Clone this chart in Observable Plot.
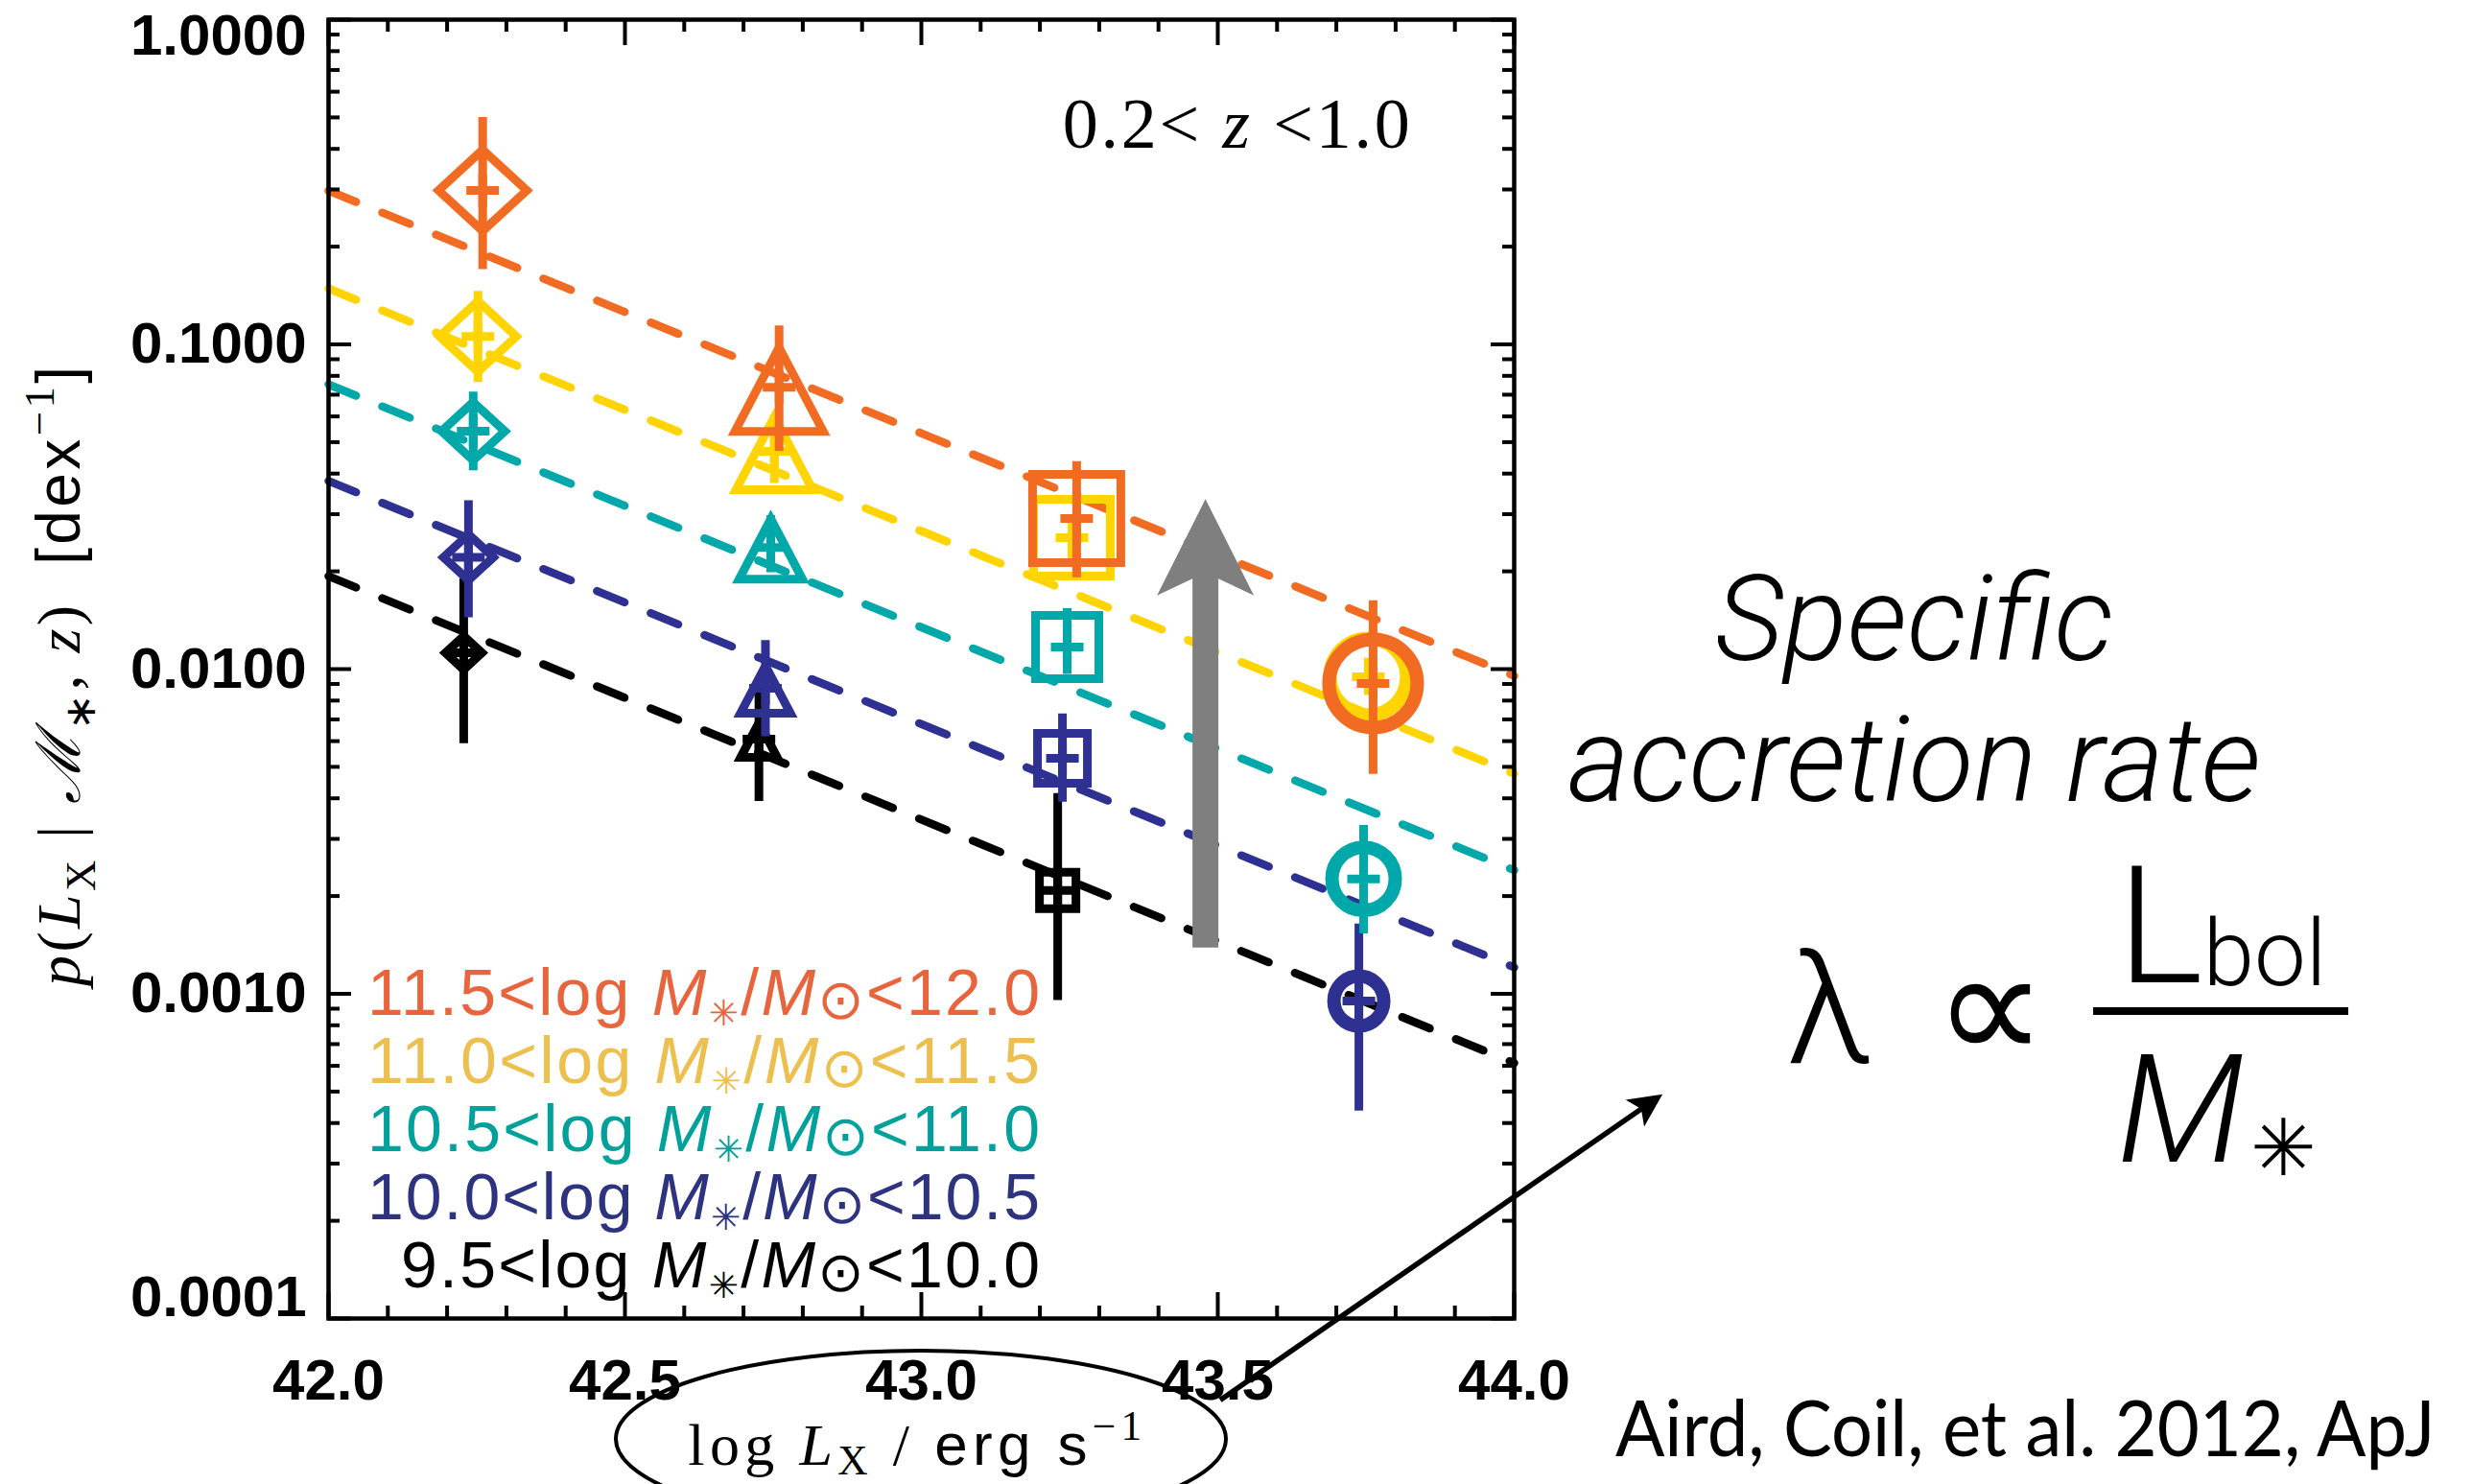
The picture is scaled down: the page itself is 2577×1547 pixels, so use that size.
<!DOCTYPE html>
<html>
<head>
<meta charset="utf-8">
<script src="https://cdn.jsdelivr.net/npm/d3@7"></script>
<script src="https://cdn.jsdelivr.net/npm/@observablehq/plot@0.6"></script>
<style>
  html, body { margin: 0; padding: 0; background: #fff; }
  #chart svg { display: block; }
</style>
</head>
<body>
<div id="chart"></div>
<script>
// ---------------- DATA ----------------
// stellar-mass bins (log M*/Msun), drawn from low to high mass
const massBins = ["9.5-10.0", "10.0-10.5", "10.5-11.0", "11.0-11.5", "11.5-12.0"];
const legendLo = ["9.5", "10.0", "10.5", "11.0", "11.5"];
const legendHi = ["10.0", "10.5", "11.0", "11.5", "12.0"];
// X-ray luminosity bins (one plotting symbol per bin)
const lxBins = ["42.0-42.5", "42.5-43.0", "43.0-43.5", "43.5-44.0"];

// measured points: mass-bin index, Lx-bin index, log Lx, p, lower, upper
const ptMass = [0, 0, 0,   1, 1, 1, 1,   2, 2, 2, 2,   3, 3, 3, 3,   4, 4, 4, 4];
const ptBin  = [0, 1, 2,   0, 1, 2, 3,   0, 1, 2, 3,   0, 1, 2, 3,   0, 1, 2, 3];
const ptLx   = [42.228, 42.726, 43.230,
                42.236, 42.737, 43.238, 43.738,
                42.244, 42.746, 43.246, 43.746,
                42.252, 42.752, 43.254, 43.754,
                42.260, 42.760, 43.262, 43.762];
const ptP    = [0.01122, 0.00609, 0.00208,
                0.0221, 0.00873, 0.00531, 0.00095,
                0.0540, 0.0237, 0.01169, 0.00226,
                0.1058, 0.0468, 0.02538, 0.00947,
                0.298, 0.0738, 0.0291, 0.00903];
const ptLo   = [0.00589, 0.00391, 0.000953,
                0.0144, 0.00619, 0.00389, 0.000435,
                0.0408, 0.0198, 0.00963, 0.00153,
                0.0763, 0.0373, 0.0218, 0.0083,
                0.170, 0.0468, 0.0191, 0.00474];
const ptHi   = [0.0190, 0.00897, 0.00414,
                0.0330, 0.01225, 0.00727, 0.00164,
                0.0713, 0.0297, 0.01536, 0.0033,
                0.1456, 0.0606, 0.0295, 0.0108,
                0.500, 0.114, 0.0435, 0.01624];

// dashed model lines: value at log Lx = 42.0 and 44.0 for each mass bin
const lineLx = [42.0, 44.0];
const lineStart = [0.01933, 0.03798, 0.0753, 0.1486, 0.2974];
const lineEnd   = [0.000612, 0.001207, 0.002403, 0.004767, 0.00953];

// axes
const xMajor = [42.0, 42.5, 43.0, 43.5, 44.0];
const xTickLabels = ["42.0", "42.5", "43.0", "43.5", "44.0"];
const xMinor = [42.1, 42.2, 42.3, 42.4, 42.6, 42.7, 42.8, 42.9, 43.1, 43.2, 43.3, 43.4, 43.6, 43.7, 43.8, 43.9];
const yMajor = [1, 0.1, 0.01, 0.001, 0.0001];
const yTickLabels = ["1.0000", "0.1000", "0.0100", "0.0010", "0.0001"];
const yMinor = [];
for (const dec of [1e-4, 1e-3, 1e-2, 1e-1]) for (let k = 2; k <= 9; k++) yMinor.push(+(dec * k).toPrecision(3));

// annotations (data coordinates)
const grayArrowLx = [43.48];
const grayArrowP = [0.001383, 0.0333];          // tail, tip
const noteArrowLx = [43.505, 44.251];           // tail, tip
const noteArrowP = [5.59e-5, 4.89e-4];
const ellipseAt = [43.0, 4.243e-5];
const zLabelAt = [43.532, 0.4018];
const legendAt = [43.2006, 8.58e-4];
const yTitleAt = [41.581, 0.00947];
const xTitleAt = [42.990, 3.532e-5];
const formulaAt = [45.1926, 8.82e-4];
const notes = ["Specific", "accretion rate"];
const notesLx = [44.675, 44.675];
const notesP = [0.01070, 0.003937];
const citation = ["Aird, Coil, et al. 2012, ApJ"];
const citationAt = [44.863, 3.75e-5];

// ---------------- STYLE ----------------
const W = 2577, H = 1547;
const MT = 20, MR = 999, MB = 173, ML = 342;
const FW = W - ML - MR, FH = H - MT - MB;
const binColors = ["#000000", "#2e3192", "#00a8aa", "#ffd400", "#f26b22"];
const legendColors = ["#000000", "#2e3380", "#00a19b", "#ecbf4e", "#e8643c"];
const legendWidth = [666, 701, 701, 701, 701];
const markerSize = [19, 26, 33, 40, 46];
const SANS = "'Liberation Sans', Arial, Helvetica, sans-serif";
const SERIF = "'Liberation Serif', 'Times New Roman', serif";
const LIGHT = "Roboto, 'Liberation Sans', sans-serif";
const SYM = "'DejaVu Sans', sans-serif";

const symDiamond = {draw(c, s) { const r = Math.sqrt(s / Math.PI), h = r * 0.92;
  c.moveTo(0, -h); c.lineTo(r, 0); c.lineTo(0, h); c.lineTo(-r, 0); c.closePath(); }};
const symTriangle = {draw(c, s) { const r = Math.sqrt(s / Math.PI);
  c.moveTo(0, -0.9 * r); c.lineTo(r, r); c.lineTo(-r, r); c.closePath(); }};
const symSquare = {draw(c, s) { const r = Math.sqrt(s / Math.PI); c.rect(-r, -r, 2 * r, 2 * r); }};
const symPlus = {draw(c, s) { const r = Math.sqrt(s / Math.PI);
  c.moveTo(-r, 0); c.lineTo(r, 0); c.moveTo(0, -r); c.lineTo(0, r); }};
const shapeSyms = [symDiamond, symTriangle, symSquare];

// ---------------- TABLES ----------------
const points = ptP.map((p, i) => ({m: ptMass[i], mass: massBins[ptMass[i]], bin: ptBin[i], lx: ptLx[i], p, lo: ptLo[i], hi: ptHi[i]}));
const lineRows = massBins.flatMap((mass, i) => [
  {mass, lx: lineLx[0], p: lineStart[i]},
  {mass, lx: lineLx[1], p: lineEnd[i]}
]);

// ---------------- helpers ----------------
function rich(cfg) {
  return (index, scales) => {
    const X = scales.x(cfg.at[0]) + (cfg.dx || 0), Y = scales.y(cfg.at[1]) + (cfg.dy || 0);
    const t = d3.create("svg:text")
      .attr("x", X).attr("y", Y)
      .attr("font-family", cfg.family).attr("font-size", cfg.size)
      .attr("fill", cfg.fill || "#000")
      .attr("text-anchor", cfg.anchor || "start");
    if (cfg.weight) t.attr("font-weight", cfg.weight);
    if (cfg.rotate) t.attr("transform", `rotate(${cfg.rotate},${X},${Y})`);
    if (cfg.length) t.attr("textLength", cfg.length).attr("lengthAdjust", cfg.adjust || "spacing");
    if (cfg.fit) t.attr("data-fit", cfg.fit).attr("data-cx", X);
    let shift = 0;
    for (const p of cfg.parts) {
      const s = t.append("tspan").text(p.t);
      const target = p.sub ? cfg.size * (p.shift ?? 0.25) : p.sup ? -cfg.size * 0.42 : 0;
      if (target !== shift) { s.attr("dy", target - shift); shift = target; }
      if (p.sub || p.sup || p.scale) s.attr("font-size", cfg.size * (p.scale || 0.7));
      if (p.it) s.attr("font-style", "italic");
      if (p.fam) s.attr("font-family", p.fam);
      if (p.w) s.attr("font-weight", p.w);
    }
    return t.node();
  };
}

function grayArrow(index, scales) {
  const x = scales.x(grayArrowLx[0]), y0 = scales.y(grayArrowP[0]), y1 = scales.y(grayArrowP[1]);
  const sw = 13.5, hw = 50.5, hl = 100.7, nl = 83;
  const d = `M${x - sw},${y0}L${x - sw},${y1 + nl}L${x - hw},${y1 + hl}L${x},${y1}L${x + hw},${y1 + hl}L${x + sw},${y1 + nl}L${x + sw},${y0}Z`;
  return d3.create("svg:path").attr("d", d).attr("fill", "#7f7f7f").node();
}

function noteArrow(index, scales) {
  const x0 = scales.x(noteArrowLx[0]), y0 = scales.y(noteArrowP[0]);
  const x1 = scales.x(noteArrowLx[1]), y1 = scales.y(noteArrowP[1]);
  const L = Math.hypot(x1 - x0, y1 - y0), ux = (x1 - x0) / L, uy = (y1 - y0) / L, nx = -uy, ny = ux;
  const g = d3.create("svg:g");
  g.append("line").attr("x1", x0).attr("y1", y0).attr("x2", x1 - ux * 22).attr("y2", y1 - uy * 22)
    .attr("stroke", "#000").attr("stroke-width", 5.5);
  const hl = 35, hw = 17, nl = 27;
  g.append("path").attr("d",
    `M${x1},${y1}L${x1 - ux * hl + nx * hw},${y1 - uy * hl + ny * hw}L${x1 - ux * nl},${y1 - uy * nl}L${x1 - ux * hl - nx * hw},${y1 - uy * hl - ny * hw}Z`)
    .attr("fill", "#000");
  return g.node();
}

function ellipseMark(index, scales) {
  return d3.create("svg:ellipse").attr("cx", scales.x(ellipseAt[0])).attr("cy", scales.y(ellipseAt[1]))
    .attr("rx", 318).attr("ry", 92).attr("fill", "none").attr("stroke", "#000").attr("stroke-width", 4).node();
}

function formulaMark(index, scales) {
  const X = scales.x(formulaAt[0]), Y = scales.y(formulaAt[1]);
  const g = d3.create("svg:g").attr("font-family", LIGHT).attr("font-weight", 300).attr("fill", "#000");
  g.append("text").attr("x", X - 408).attr("y", Y + 54).attr("text-anchor", "middle").attr("font-size", 162).text("λ");
  g.append("text").attr("x", X - 240).attr("y", Y + 52).attr("text-anchor", "middle").attr("font-size", 165)
    .attr("font-family", SYM).attr("font-weight", 400).text("∝");
  g.append("line").attr("x1", X - 133).attr("x2", X + 133).attr("y1", Y).attr("y2", Y).attr("stroke", "#000").attr("stroke-width", 8);
  const num = g.append("text").attr("x", X - 108).attr("y", Y - 30).attr("font-size", 170).attr("text-anchor", "start");
  num.append("tspan").text("L");
  num.append("tspan").attr("font-size", 96).attr("dy", 3).text("bol");
  const den = g.append("text").attr("x", X - 108).attr("y", Y + 157).attr("font-size", 158).attr("text-anchor", "start");
  den.append("tspan").attr("font-style", "italic").text("M");
  den.append("tspan").attr("font-size", 82).attr("dy", 14).attr("dx", 6).attr("font-family", SYM).text("✳");
  return g.node();
}

// ---------------- MARKS ----------------
const marks = [];
marks.push(Plot.line(lineRows, {x: "lx", y: "p", z: "mass", stroke: "mass", strokeWidth: 8.5, strokeDasharray: "31,29.5"}));
marks.push(grayArrow);

massBins.forEach((mass, k) => {
  const rows = points.filter(d => d.m === k);
  marks.push(Plot.ruleX(rows, {x: "lx", y1: "lo", y2: "hi", stroke: "mass", strokeWidth: 9}));
  marks.push(Plot.dot(rows, {x: "lx", y: "p", r: 17, symbol: symPlus, stroke: "mass", strokeWidth: 9}));
  shapeSyms.forEach((sym, b) => {
    marks.push(Plot.dot(rows.filter(d => d.bin === b), {x: "lx", y: "p", r: markerSize[k], symbol: sym,
      stroke: "mass", fill: "none", strokeWidth: 9, strokeLinejoin: "miter"}));
  });
  marks.push(Plot.dot(rows.filter(d => d.bin === 3), {x: "lx", y: "p", r: markerSize[k], symbol: "circle",
    stroke: "mass", fill: "none", strokeWidth: 14}));
});

// ticks (inward) and frame
const tk = {stroke: "#000", strokeWidth: 4};
marks.push(Plot.ruleX(xMajor, {x: d => d, insetTop: FH - 27, ...tk}));
marks.push(Plot.ruleX(xMajor, {x: d => d, insetBottom: FH - 27, ...tk}));
marks.push(Plot.ruleX(xMinor, {x: d => d, insetTop: FH - 13, ...tk}));
marks.push(Plot.ruleX(xMinor, {x: d => d, insetBottom: FH - 13, ...tk}));
marks.push(Plot.ruleY(yMajor, {y: d => d, insetRight: FW - 24, ...tk}));
marks.push(Plot.ruleY(yMajor, {y: d => d, insetLeft: FW - 24, ...tk}));
marks.push(Plot.ruleY(yMinor, {y: d => d, insetRight: FW - 12, ...tk}));
marks.push(Plot.ruleY(yMinor, {y: d => d, insetLeft: FW - 12, ...tk}));
marks.push(Plot.frame({stroke: "#000", strokeWidth: 4.5}));

// tick labels
const lab = {fontSize: 60, fontWeight: "bold", fontFamily: SANS, fill: "#000"};
marks.push(Plot.text(xMajor, {x: d => d, text: (d, i) => xTickLabels[i], frameAnchor: "bottom", lineAnchor: "top", dy: 42, textAnchor: "middle", ...lab}));
const yIdx = [0, 1, 2, 3, 4];
const yLab = {y: i => yMajor[i], text: i => yTickLabels[i], frameAnchor: "left", textAnchor: "end", lineAnchor: "middle", dx: -23, ...lab};
marks.push(Plot.text(yIdx.filter(i => i > 0 && i < 4), yLab));
marks.push(Plot.text([0], {...yLab, dy: 17}));
marks.push(Plot.text([4], {...yLab, dy: -22}));

// axis titles
marks.push(rich({at: yTitleAt, size: 64, family: SERIF, anchor: "middle", rotate: -90, length: 646, parts: [
  {t: "p", it: true}, {t: "("}, {t: "L", it: true}, {t: "X", sub: true},
  {t: " | "}, {t: "ℳ", it: true}, {t: "∗", sub: true}, {t: ", "}, {t: "z", it: true}, {t: ")  "},
  {t: "[dex", fam: SANS}, {t: "−1", sup: true}, {t: "]", fam: SANS}
]}));
marks.push(rich({at: xTitleAt, size: 62, family: SERIF, anchor: "middle", length: 473, parts: [
  {t: "log "}, {t: "L", it: true}, {t: "X", sub: true, shift: 0.16}, {t: " / "}, {t: "erg s", fam: SANS}, {t: "−1", sup: true}
]}));

// redshift label
marks.push(rich({at: zLabelAt, size: 74, family: SERIF, anchor: "middle", length: 362, parts: [
  {t: "0.2< "}, {t: "z", it: true}, {t: " <1.0"}
]}));

// legend (top line = highest mass)
[4, 3, 2, 1, 0].forEach((k, row) => {
  marks.push(rich({at: legendAt, dy: row * 71, size: 68, family: SANS, anchor: "end", fill: legendColors[k], length: legendWidth[k], parts: [
    {t: legendLo[k] + "<log "}, {t: "M", it: true}, {t: "✳", sub: true, scale: 0.55, shift: 0.16, fam: SYM},
    {t: "/"}, {t: "M", it: true}, {t: "⊙", sub: true, scale: 0.85, shift: 0.06, fam: SYM},
    {t: "<" + legendHi[k]}
  ]}));
});

// annotations
marks.push(Plot.text(notes, {x: (d, i) => notesLx[i], y: (d, i) => notesP[i], text: d => d, textAnchor: "middle", lineAnchor: "bottom",
  fontSize: 124, fontStyle: "italic", fontWeight: 300, fontFamily: LIGHT, fill: "#000"}));
marks.push(formulaMark);
marks.push(rich({at: citationAt, size: 82, family: "Lato, 'Open Sans', sans-serif", anchor: "middle", fit: 855,
  parts: [{t: citation[0]}]}));
marks.push(ellipseMark);
marks.push(noteArrow);

const chart = Plot.plot({
  width: W, height: H,
  marginTop: MT, marginRight: MR, marginBottom: MB, marginLeft: ML,
  x: {domain: [42, 44], axis: null},
  y: {type: "log", domain: [1e-4, 1], axis: null},
  color: {domain: massBins, range: binColors},
  style: {background: "#fff", overflow: "visible"},
  marks
});
document.getElementById("chart").appendChild(chart);

// squeeze texts that must fit a given width (horizontal scale about their centre)
chart.querySelectorAll("text[data-fit]").forEach(t => {
  const target = +t.getAttribute("data-fit"), cx = +t.getAttribute("data-cx");
  const natural = t.getComputedTextLength();
  if (natural > 0) {
    const s = target / natural;
    t.setAttribute("transform", `translate(${cx},0) scale(${s},1) translate(${-cx},0)`);
  }
});
</script>
</body>
</html>
